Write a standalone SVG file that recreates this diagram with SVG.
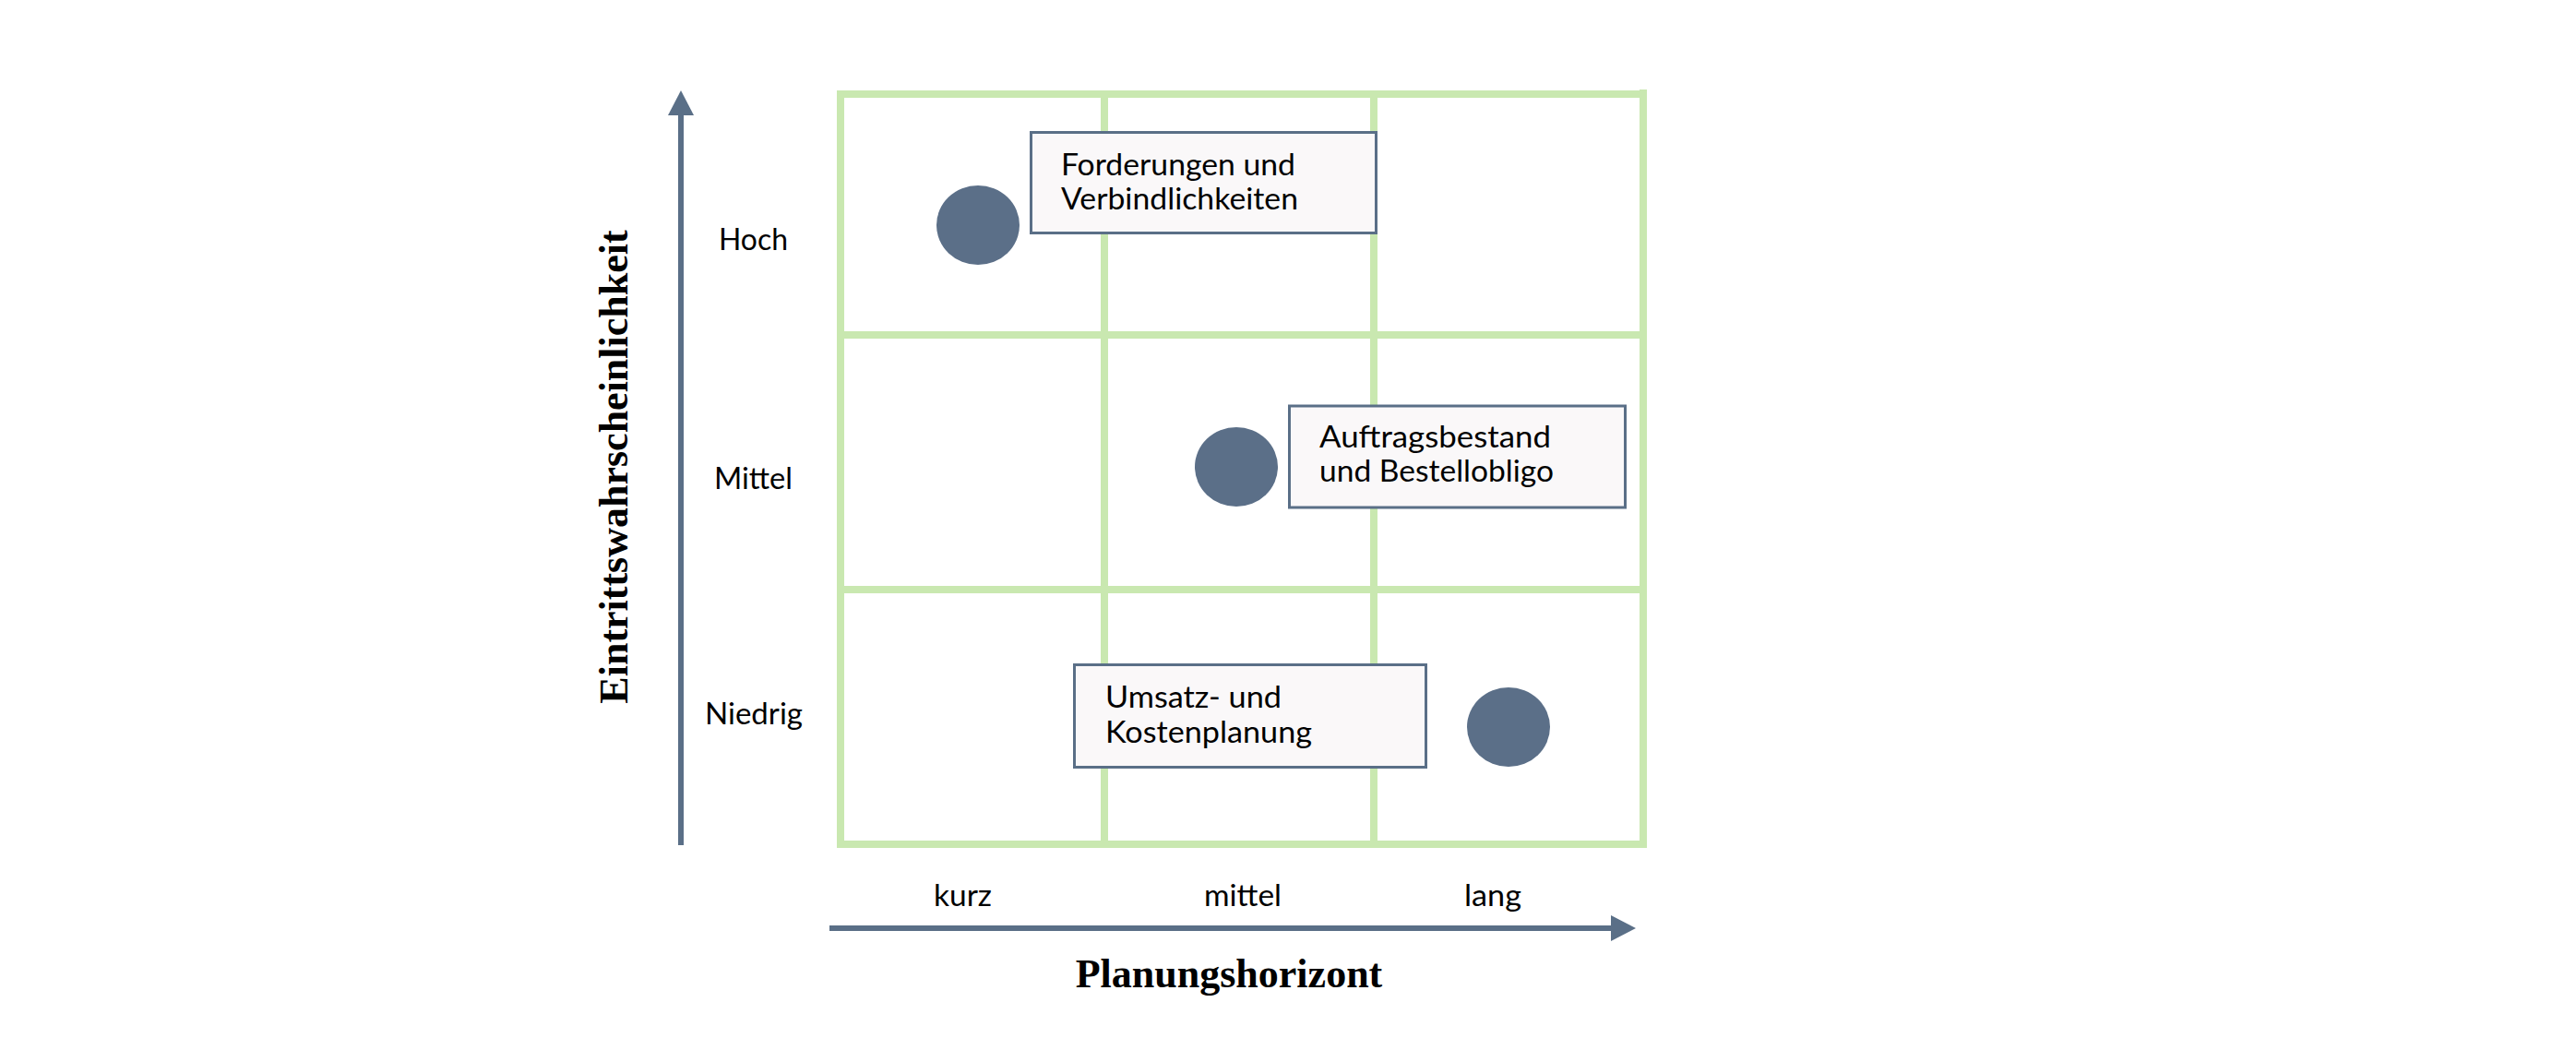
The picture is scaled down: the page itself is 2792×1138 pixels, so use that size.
<svg xmlns="http://www.w3.org/2000/svg" width="2792" height="1138" viewBox="0 0 2792 1138">
  <style>
    .grid { fill: #c9e8b0; }
    .axis { stroke: #5a6f87; stroke-width: 6; fill: none; }
    .dot { fill: #5b6f88; }
    .box { fill: #faf8f9; stroke: #5a6f87; stroke-width: 3; }
    .lbl { font-family: Lato, "Noto Sans", "DejaVu Sans", sans-serif; font-size: 32px; fill: #000; }
    .title { font-family: "Liberation Serif", "Times New Roman", serif; font-weight: bold; font-size: 44px; fill: #000; }
  </style>
  <defs>
    <marker id="ah" markerUnits="userSpaceOnUse" markerWidth="28" markerHeight="28" viewBox="0 0 28 28" refX="0" refY="14" orient="auto">
      <path d="M0,0 L27,14 L0,28 z" fill="#5a6f87"/>
    </marker>
  </defs>
  <rect width="2792" height="1138" fill="#ffffff"/>

  <g id="grid">
    <rect class="grid" x="907" y="98" width="8" height="821"/>
    <rect class="grid" x="1193" y="98" width="8" height="821"/>
    <rect class="grid" x="1485" y="98" width="8" height="821"/>
    <rect class="grid" x="1777" y="97" width="8" height="822"/>
    <rect class="grid" x="907" y="98" width="878" height="8"/>
    <rect class="grid" x="907" y="359" width="878" height="8"/>
    <rect class="grid" x="907" y="635" width="878" height="8"/>
    <rect class="grid" x="907" y="911" width="878" height="8"/>
  </g>

  <g id="connectors">
    <line class="axis" x1="738" y1="916" x2="738" y2="125" marker-end="url(#ah)"/>
    <line class="axis" x1="899" y1="1006" x2="1746" y2="1006" marker-end="url(#ah)"/>
  </g>

  <g id="axis-labels">
    <text class="title" transform="translate(680,506) rotate(-90)" text-anchor="middle">Eintrittswahrscheinlichkeit</text>
    <text class="title" x="1332" y="1070" text-anchor="middle">Planungshorizont</text>
    <text class="lbl" x="779" y="271" textLength="75" lengthAdjust="spacingAndGlyphs">Hoch</text>
    <text class="lbl" x="774" y="530" textLength="85" lengthAdjust="spacingAndGlyphs">Mittel</text>
    <text class="lbl" x="764" y="785" textLength="106" lengthAdjust="spacingAndGlyphs">Niedrig</text>
    <text class="lbl" x="1012" y="982" textLength="63" lengthAdjust="spacingAndGlyphs">kurz</text>
    <text class="lbl" x="1305" y="982" textLength="84" lengthAdjust="spacingAndGlyphs">mittel</text>
    <text class="lbl" x="1587" y="982" textLength="62" lengthAdjust="spacingAndGlyphs">lang</text>
  </g>

  <g id="node-forderungen">
    <ellipse class="dot" cx="1060" cy="244" rx="45" ry="43"/>
    <rect class="box" x="1117.5" y="143.5" width="374" height="109"/>
    <text class="lbl" x="1150" y="190" textLength="254" lengthAdjust="spacingAndGlyphs">Forderungen und</text>
    <text class="lbl" x="1150" y="227" textLength="257" lengthAdjust="spacingAndGlyphs">Verbindlichkeiten</text>
  </g>

  <g id="node-auftragsbestand">
    <ellipse class="dot" cx="1340" cy="506" rx="45" ry="43"/>
    <rect class="box" x="1397.5" y="440" width="364" height="110"/>
    <text class="lbl" x="1430" y="485" textLength="251" lengthAdjust="spacingAndGlyphs">Auftragsbestand</text>
    <text class="lbl" x="1430" y="522" textLength="254" lengthAdjust="spacingAndGlyphs">und Bestellobligo</text>
  </g>

  <g id="node-umsatz">
    <ellipse class="dot" cx="1635" cy="788" rx="45" ry="43"/>
    <rect class="box" x="1164.5" y="720.5" width="381" height="111"/>
    <text class="lbl" x="1198" y="767" textLength="191" lengthAdjust="spacingAndGlyphs">Umsatz- und</text>
    <text class="lbl" x="1198" y="805" textLength="224" lengthAdjust="spacingAndGlyphs">Kostenplanung</text>
  </g>
</svg>
